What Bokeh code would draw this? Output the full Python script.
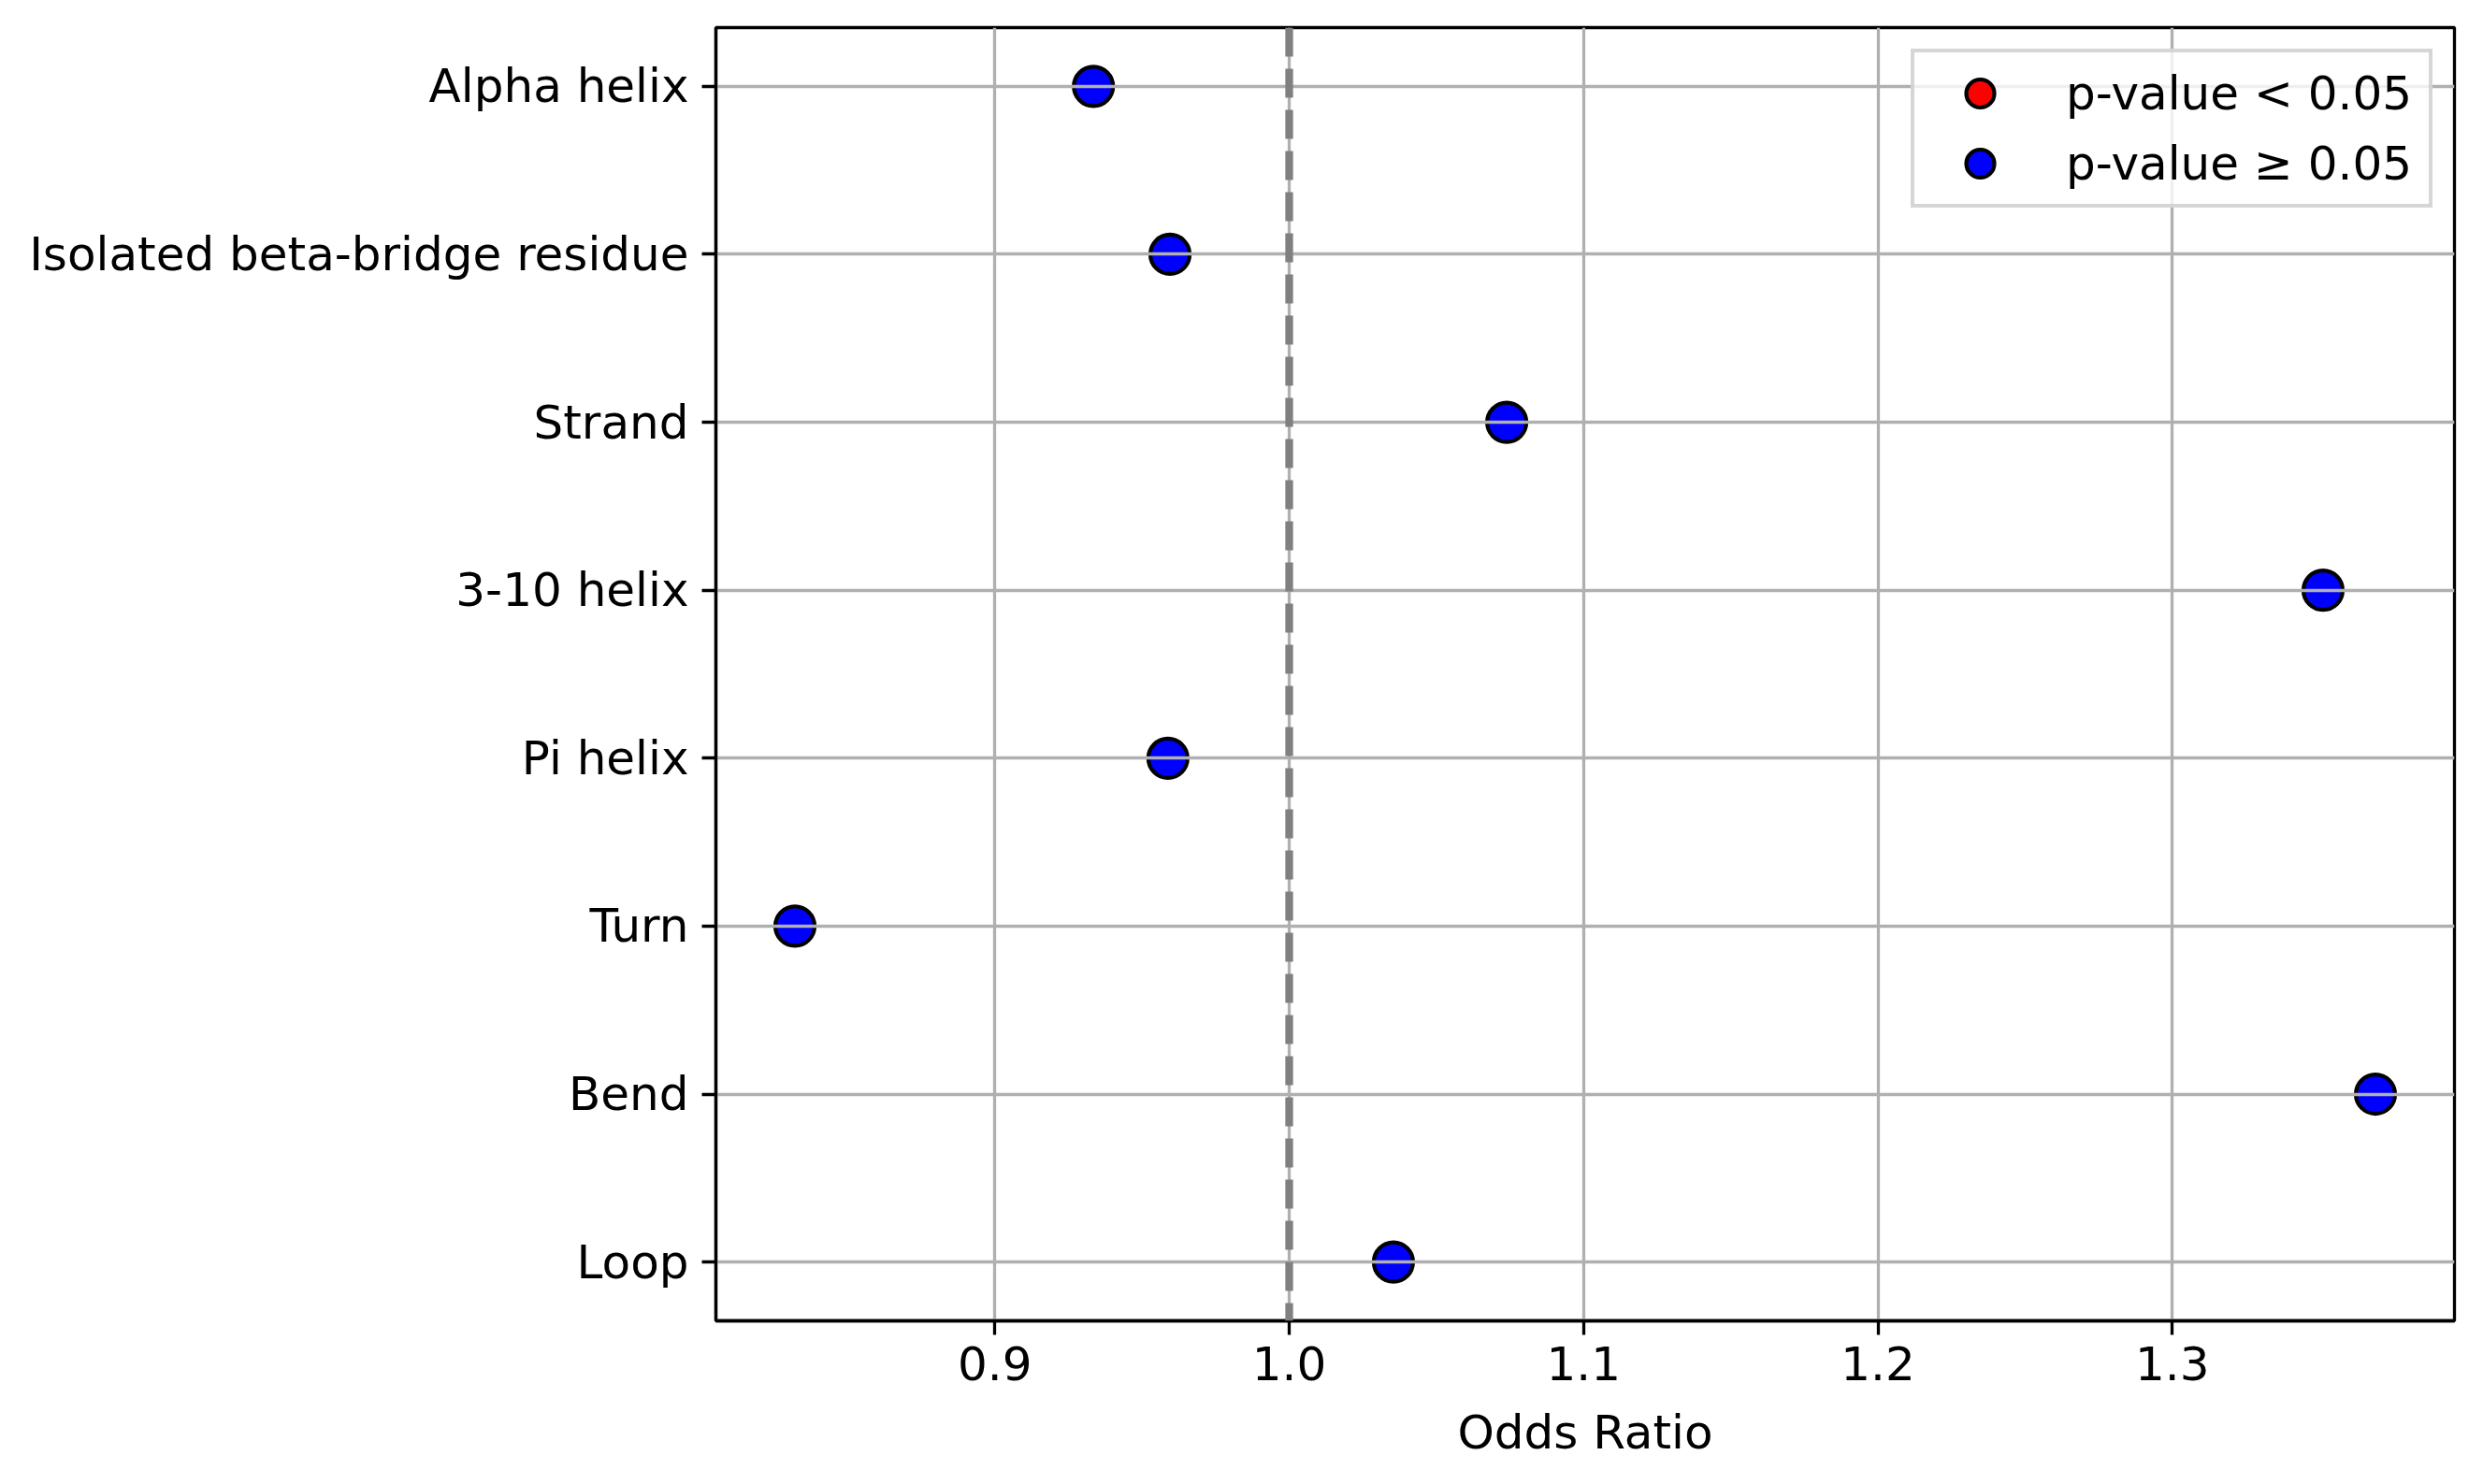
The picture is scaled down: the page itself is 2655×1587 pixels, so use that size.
import math
from bokeh.plotting import figure
from bokeh.models import (Range1d, FixedTicker, Span, Legend, LegendItem,
                          ColumnDataSource, PrintfTickFormatter)
from bokeh.embed import file_html
from bokeh.resources import INLINE

# ---- data (top to bottom as displayed) ----
categories = ["Alpha helix", "Isolated beta-bridge residue", "Strand", "3-10 helix",
              "Pi helix", "Turn", "Bend", "Loop"]
odds_ratios = [0.9335, 0.9595, 1.0739, 1.3512, 0.9588, 0.8321, 1.3690, 1.0354]
significant = [False, False, False, False, False, False, False, False]
x_ticks = [0.9, 1.0, 1.1, 1.2, 1.3]
x_label = "Odds Ratio"
legend_labels = ["p-value < 0.05", "p-value \u2265 0.05"]
reference_or = 1.0

FONT = "DejaVu Sans"
FS = "50px"
n = len(categories)
ypos = [n - 1 - i for i in range(n)]

lo, hi = min(odds_ratios), max(odds_ratios)
xpad = 0.05 * (hi - lo)
ypad = 0.05 * (n - 1)

p = figure(width=2639, height=1571,
           x_range=Range1d(lo - xpad, hi + xpad),
           y_range=Range1d(-ypad, n - 1 + ypad),
           output_backend="svg", toolbar_location=None,
           min_border_left=765, min_border_right=15,
           min_border_top=29, min_border_bottom=159)
p.background_fill_color = "white"
p.border_fill_color = "white"
p.outline_line_color = "black"
p.outline_line_width = 3.3
p.outline_line_alpha = 1.0


def group(flag):
    xs = [v for v, s in zip(odds_ratios, significant) if s == flag]
    ys = [y for y, s in zip(ypos, significant) if s == flag]
    if not xs:  # empty group: placeholder so the legend entry is still drawn
        xs, ys = [math.nan], [math.nan]
    return ColumnDataSource(data=dict(x=xs, y=ys))


r_sig = p.scatter(x="x", y="y", source=group(True), size=42, fill_color="red",
                  line_color="black", line_width=4.2, level="image")
r_ns = p.scatter(x="x", y="y", source=group(False), size=42, fill_color="blue",
                 line_color="black", line_width=4.2, level="image")

vline = Span(location=reference_or, dimension="height", line_color="gray",
             line_dash="31 13", line_width=8.3)
p.add_layout(vline)

# axes
p.xaxis.ticker = FixedTicker(ticks=x_ticks)
p.xaxis.formatter = PrintfTickFormatter(format="%.1f")
p.xaxis.axis_label = x_label
p.xaxis.axis_label_text_font = FONT
p.xaxis.axis_label_text_font_size = FS
p.xaxis.axis_label_text_font_style = "normal"
p.xaxis.axis_label_text_color = "black"
p.xaxis.axis_label_standoff = 24
p.xaxis.major_label_standoff = 12

p.yaxis.ticker = FixedTicker(ticks=ypos)
p.yaxis.major_label_overrides = {y: c for y, c in zip(ypos, categories)}
p.yaxis.major_label_standoff = 14

for ax in (p.xaxis, p.yaxis):
    ax.major_label_text_font = FONT
    ax.major_label_text_font_size = FS
    ax.major_label_text_color = "black"
    ax.axis_line_color = "black"
    ax.axis_line_width = 3.3
    ax.major_tick_line_color = "black"
    ax.major_tick_line_width = 3.3
    ax.major_tick_out = 15
    ax.major_tick_in = 0
    ax.minor_tick_out = 0
    ax.minor_tick_in = 0

for g in (p.xgrid, p.ygrid):
    g.grid_line_color = "#b0b0b0"
    g.grid_line_width = 3.3
    g.grid_line_alpha = 1.0

legend = Legend(items=[LegendItem(label=legend_labels[0], renderers=[r_sig]),
                       LegendItem(label=legend_labels[1], renderers=[r_ns])],
                location="top_right", margin=23, padding=6, spacing=0,
                glyph_width=128, glyph_height=75, label_standoff=28,
                label_width=382,
                label_text_font=FONT, label_text_font_size=FS,
                label_text_color="black",
                border_line_color="#cccccc", border_line_alpha=0.8,
                border_line_width=4,
                background_fill_color="white", background_fill_alpha=0.8)
p.add_layout(legend)

open("out.html", "w").write(file_html(p, INLINE))
